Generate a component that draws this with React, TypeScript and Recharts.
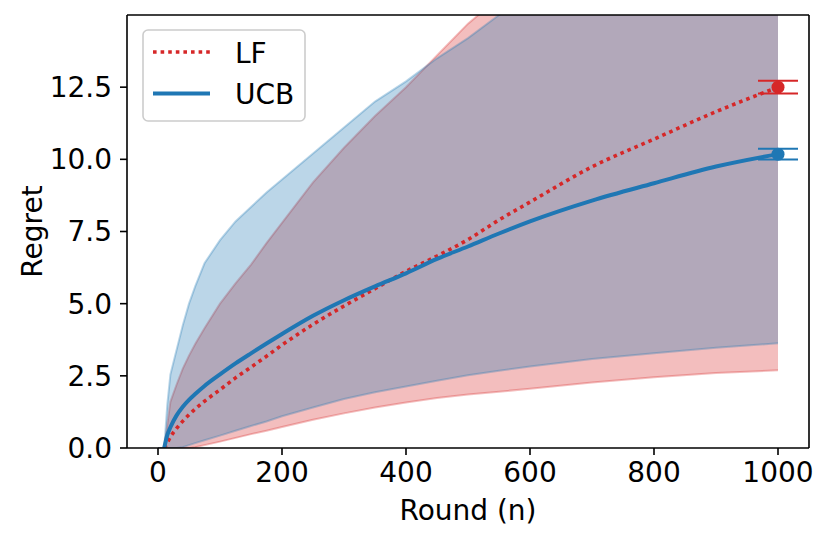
import React from 'react';
import { Area, ComposedChart, ErrorBar, Legend, Line, ReferenceLine, Scatter, XAxis, YAxis } from 'recharts';

const red = '#d62728';
const blue = '#1f77b4';
const font = 'DejaVu Sans';

const rounds = [0, 10, 15, 20, 30, 40, 50, 60, 75, 100, 125, 150, 175, 200, 250, 300, 350, 400, 450, 500, 550, 600, 700, 800, 900, 1000];
const lfMean = [null, 0, 0.18, 0.38, 0.68, 0.93, 1.15, 1.35, 1.62, 2.02, 2.43, 2.8, 3.18, 3.57, 4.28, 4.92, 5.52, 6.12, 6.65, 7.22, 7.9, 8.52, 9.74, 10.7, 11.65, 12.5];
const ucbMean = [null, 0, 0.45, 0.72, 1.13, 1.43, 1.67, 1.87, 2.15, 2.55, 2.93, 3.28, 3.62, 3.95, 4.58, 5.12, 5.6, 6.05, 6.55, 6.98, 7.43, 7.85, 8.57, 9.17, 9.75, 10.18];
const lfLow = [0, 0, 0, 0, 0, 0, 0, 0.03, 0.1, 0.22, 0.35, 0.48, 0.6, 0.73, 0.98, 1.2, 1.4, 1.58, 1.73, 1.85, 1.95, 2.05, 2.27, 2.45, 2.6, 2.69];
const lfHigh = [0, 0, 0.8, 1.6, 2.2, 2.75, 3.2, 3.6, 4.15, 5.0, 5.7, 6.35, 7.1, 7.8, 9.2, 10.4, 11.5, 12.5, 13.6, 14.7, 15.6, 16.5, 18.0, 19.5, 21.0, 22.5];
const ucbLow = [0, 0, 0, 0, 0, 0.03, 0.1, 0.17, 0.27, 0.43, 0.6, 0.76, 0.92, 1.1, 1.4, 1.7, 1.93, 2.13, 2.33, 2.52, 2.68, 2.82, 3.08, 3.28, 3.47, 3.63];
const ucbHigh = [0, 0, 1.5, 2.55, 3.4, 4.25, 5.0, 5.6, 6.4, 7.2, 7.85, 8.35, 8.85, 9.3, 10.2, 11.1, 12.0, 12.7, 13.5, 14.2, 15.0, 15.6, 16.7, 17.8, 18.9, 20.0];

// final regret with its spread, drawn as marker + error bar at the last round
const lfFinal = [{ round: 1000, value: 12.5, err: 0.22 }];
const ucbFinal = [{ round: 1000, value: 10.18, err: 0.19 }];

const xTicks = [0, 200, 400, 600, 800, 1000];
const yTicks = [0, 2.5, 5, 7.5, 10, 12.5];

const table = rounds.map((round, i) => ({
  round,
  lfMean: lfMean[i],
  ucbMean: ucbMean[i],
  lfBand: [lfLow[i], lfHigh[i]],
  ucbBand: [ucbLow[i], ucbHigh[i]],
}));

const tickStyle = { fill: '#000', fontSize: 28, fontFamily: font };
const axisStroke = { stroke: '#000', strokeWidth: 1.6 };

const LegendBox = () => (
  <svg width={164} height={93} style={{ display: 'block' }}>
    <rect x={1} y={1} width={162} height={91} rx={5} fill="#fff" fillOpacity={0.8} stroke="#cccccc" strokeWidth={1.6} />
    <line x1={11} x2={68} y1={23} y2={23} stroke={red} strokeWidth={3.6} strokeDasharray="3.6 4" />
    <text x={93} y={34} fontSize={28} fontFamily={font} fill="#000">LF</text>
    <line x1={11} x2={68} y1={64.5} y2={64.5} stroke={blue} strokeWidth={4} />
    <text x={93} y={75} fontSize={28} fontFamily={font} fill="#000">UCB</text>
  </svg>
);

const Dot = (color: string) => (p: any) => <circle cx={p.cx} cy={p.cy} r={6.5} fill={color} />;

export default function App() {
  return (
    <div style={{ fontFamily: font }}>
      <style>{'body{margin:0}'}</style>
      <ComposedChart width={830} height={541} data={table} margin={{ top: 15, right: 21, bottom: 0, left: 0 }}>
        <XAxis
          type="number"
          dataKey="round"
          domain={[-50, 1050]}
          ticks={xTicks}
          allowDataOverflow
          height={93}
          tickSize={7}
          tickMargin={7}
          tick={tickStyle}
          tickLine={axisStroke}
          axisLine={axisStroke}
          label={(props: any) => {
            const vb = props.viewBox;
            return (
              <text x={vb.x + vb.width / 2} y={vb.y + 72} textAnchor="middle" fontSize={28} fontFamily={font} fill="#000">
                Round (n)
              </text>
            );
          }}
        />
        <YAxis
          type="number"
          domain={[0, 15]}
          ticks={yTicks}
          allowDataOverflow
          width={127}
          tickSize={7}
          tickMargin={8}
          tick={tickStyle}
          tickLine={axisStroke}
          axisLine={axisStroke}
          tickFormatter={(v: number) => v.toFixed(1)}
          label={(props: any) => {
            const vb = props.viewBox;
            const cx = 42;
            const cy = vb.y + vb.height / 2;
            return (
              <text x={cx} y={cy} transform={`rotate(-90 ${cx} ${cy})`} textAnchor="middle" fontSize={28} fontFamily={font} fill="#000">
                Regret
              </text>
            );
          }}
        />
        <Area dataKey="lfBand" type="linear" fill={red} fillOpacity={0.3} stroke={red} strokeOpacity={0.3} strokeWidth={2} isAnimationActive={false} />
        <Area dataKey="ucbBand" type="linear" fill={blue} fillOpacity={0.3} stroke={blue} strokeOpacity={0.3} strokeWidth={2} isAnimationActive={false} />
        <Line dataKey="lfMean" type="monotone" stroke={red} strokeWidth={3.6} strokeDasharray="3.6 4" dot={false} isAnimationActive={false} />
        <Line dataKey="ucbMean" type="monotone" stroke={blue} strokeWidth={4} dot={false} isAnimationActive={false} />
        <Scatter data={lfFinal} dataKey="value" shape={Dot(red)} isAnimationActive={false}>
          <ErrorBar dataKey="err" direction="y" width={20} stroke={red} strokeWidth={2} />
        </Scatter>
        <Scatter data={ucbFinal} dataKey="value" shape={Dot(blue)} isAnimationActive={false}>
          <ErrorBar dataKey="err" direction="y" width={20} stroke={blue} strokeWidth={2} />
        </Scatter>
        <ReferenceLine y={15} stroke="#000" strokeWidth={1.6} />
        <ReferenceLine x={1050} stroke="#000" strokeWidth={1.6} />
        <Legend
          layout="vertical"
          align="center"
          verticalAlign="middle"
          content={LegendBox}
          wrapperStyle={{ left: 142, top: 29, width: 164, height: 93 }}
        />
      </ComposedChart>
    </div>
  );
}
